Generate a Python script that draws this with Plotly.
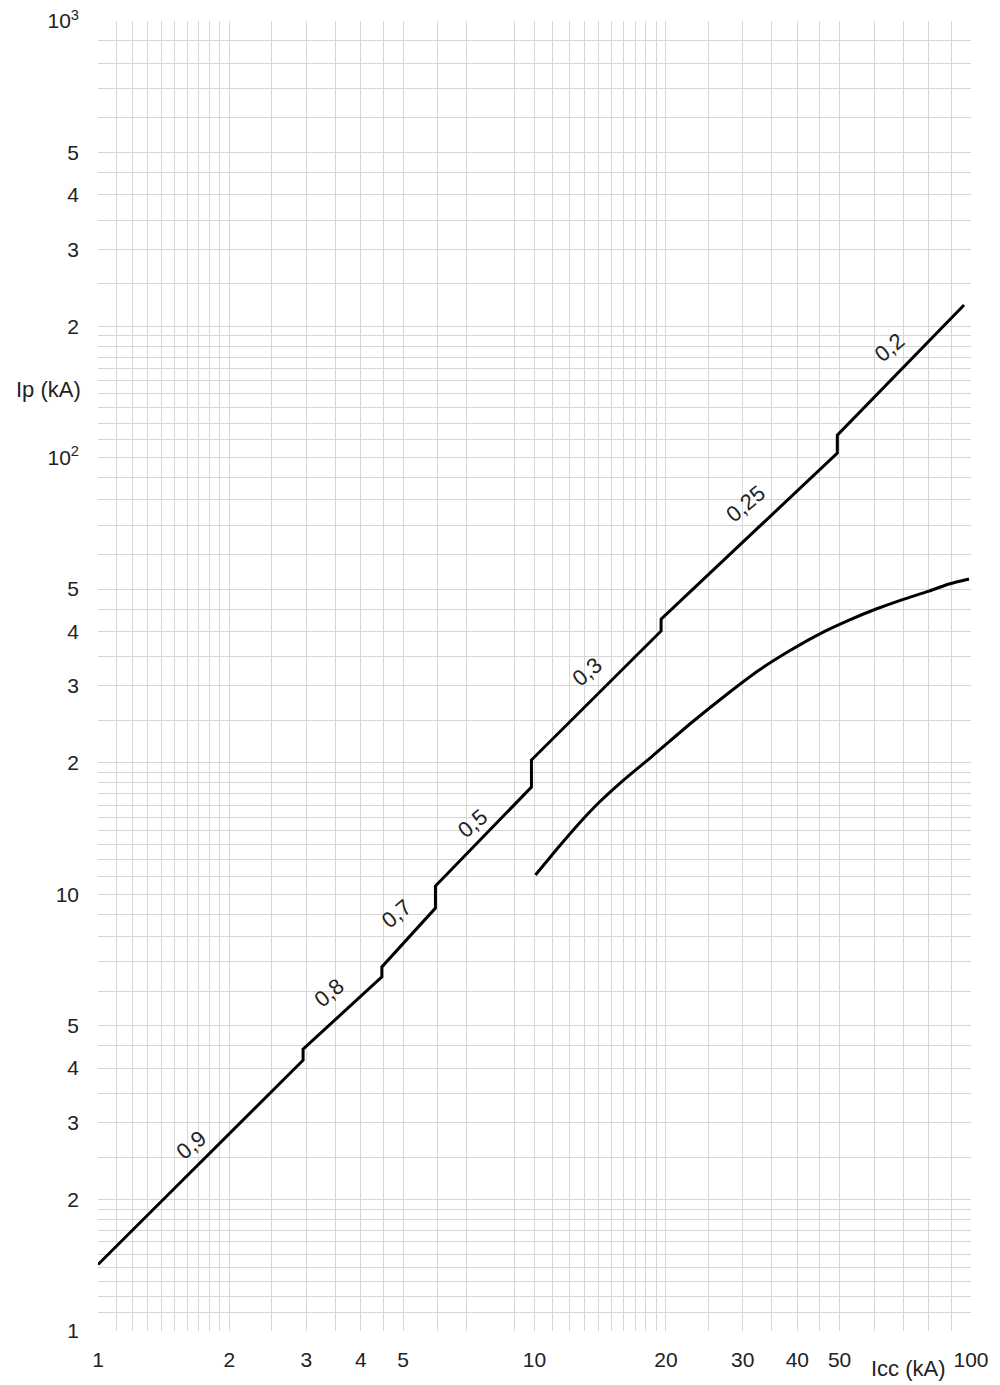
import numpy as np
import plotly.graph_objects as go

# ---- data ----
upper_x = [1.0, 2.41, 2.90, 2.95, 2.95, 4.47, 4.47, 5.93, 5.93, 7.10, 9.84, 9.84, 19.5, 19.5, 49.4, 49.4, 96.4]
upper_y = [1.42, 3.42, 4.11, 4.17, 4.42, 6.47, 6.82, 9.30, 10.45, 12.6, 17.6, 20.3, 40.1, 42.7, 102.4, 112.6, 223.6]

lower_x = [10.05, 11.41, 12.68, 14.09, 15.90, 18.62, 22.99, 27.65, 32.73, 38.32, 45.39, 52.58, 60.62, 69.15, 80.14, 89.07, 98.95]
lower_y = [11.07, 12.90, 14.57, 16.27, 18.17, 20.73, 24.81, 28.76, 32.63, 36.07, 39.66, 42.47, 45.02, 47.20, 49.49, 51.35, 52.72]

pf_labels = ["0,9", "0,8", "0,7", "0,5", "0,3", "0,25", "0,2"]
pf_label_x = [1.64, 3.39, 4.83, 7.21, 13.23, 30.5, 65.0]
pf_label_y = [2.67, 5.95, 9.05, 14.56, 32.3, 78.6, 179.0]

# grid values (log paper)
decade_steps = [1.0, 1.1, 1.2, 1.3, 1.4, 1.5, 1.6, 1.7, 1.8, 1.9, 2.0, 2.5, 3.0, 3.5, 4.0, 4.5, 5.0, 6.0, 7.0, 8.0, 9.0]
x_grid = [v for v in decade_steps if v != 8.0] + [v * 10 for v in decade_steps] + [100.0]
y_grid = [v for v in decade_steps] + [v * 10 for v in decade_steps] + [v * 100 for v in decade_steps] + [1000.0]

x_tick_labels = {1: "1", 2: "2", 3: "3", 4: "4", 5: "5", 10: "10", 20: "20", 30: "30", 40: "40", 50: "50", 100: "100"}
y_tick_labels = {1: "1", 2: "2", 3: "3", 4: "4", 5: "5", 10: "10", 20: "2", 30: "3", 40: "4", 50: "5",
                 100: "10<sup>2</sup>", 200: "2", 300: "3", 400: "4", 500: "5", 1000: "10<sup>3</sup>"}

def label_for(v, table):
    for k, t in table.items():
        if abs(v - k) < 1e-9:
            return t
    return ""

FONT = "Liberation Sans, Arial, sans-serif"

fig = go.Figure()
fig.add_trace(go.Scatter(x=upper_x, y=upper_y, mode="lines",
                         line=dict(color="black", width=3), showlegend=False, hoverinfo="skip"))
fig.add_trace(go.Scatter(x=lower_x, y=lower_y, mode="lines",
                         line=dict(color="black", width=3, shape="spline", smoothing=0.7),
                         showlegend=False, hoverinfo="skip"))

for t, lx, ly in zip(pf_labels, pf_label_x, pf_label_y):
    fig.add_annotation(x=np.log10(lx), y=np.log10(ly), xref="x", yref="y", text=t,
                       showarrow=False, textangle=-40,
                       font=dict(family=FONT, size=22, color="#222"))

fig.add_annotation(x=-0.057, y=np.log10(143), xref="paper", yref="y", text="Ip (kA)",
                   xanchor="center", yanchor="middle",
                   showarrow=False, font=dict(family=FONT, size=22, color="#222"))
fig.add_annotation(x=np.log10(72), y=-0.029, xref="x", yref="paper", text="Icc (kA)",
                   xanchor="center", yanchor="middle",
                   showarrow=False, font=dict(family=FONT, size=22, color="#222"))

fig.update_xaxes(type="log", range=[0, 2], automargin=False,
                 tickmode="array", tickvals=x_grid,
                 ticktext=[label_for(v, x_tick_labels) for v in x_grid],
                 showgrid=True, gridcolor="#d6d6d6", gridwidth=1,
                 zeroline=False, showline=False, ticks="",
                 ticklabelstandoff=14, ticklabeloverflow="allow",
                 tickfont=dict(family=FONT, size=21, color="#222"))
fig.update_yaxes(type="log", range=[0, 3], automargin=False,
                 tickmode="array", tickvals=y_grid,
                 ticktext=[label_for(v, y_tick_labels) for v in y_grid],
                 showgrid=True, gridcolor="#d6d6d6", gridwidth=1,
                 zeroline=False, showline=False, ticks="",
                 ticklabelstandoff=18, ticklabeloverflow="allow",
                 tickfont=dict(family=FONT, size=21, color="#222"))

fig.update_layout(width=992, height=1377,
                  margin=dict(l=90, r=29, t=13, b=54, autoexpand=False),
                  plot_bgcolor="white", paper_bgcolor="white")

fig.write_html("out.html")
